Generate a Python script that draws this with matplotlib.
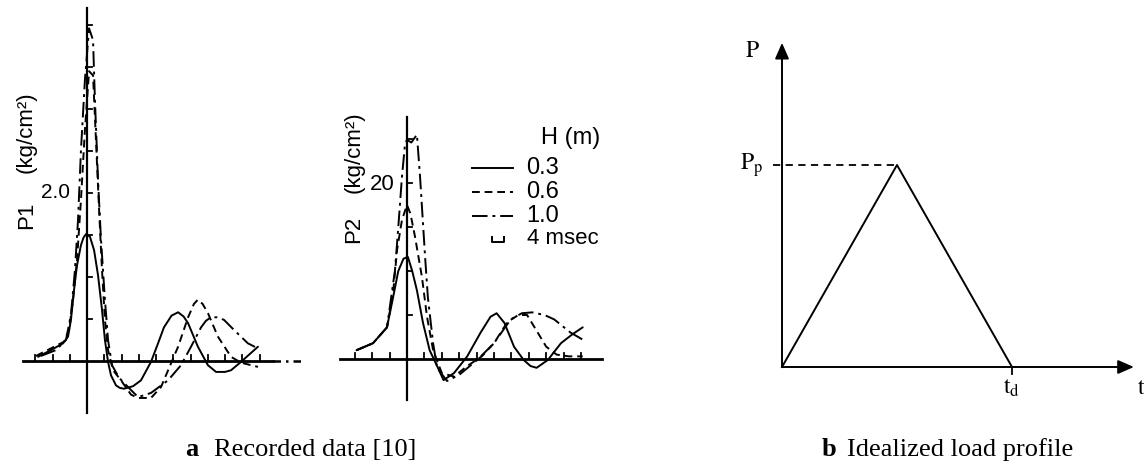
import matplotlib
matplotlib.use("Agg")
import matplotlib.pyplot as plt

plt.rcParams['mathtext.fontset'] = 'stix'

W, H = 1144, 467

# Recorded pressure histories, time in tick units (1 tick per division),
# pressure in kg/cm^2.  Three drop heights H = 0.3, 0.6, 1.0 m.
p1_t_03 = [-2.84, -2.09, -1.39, -1.10, -0.93, -0.75, -0.58, -0.35, -0.2, -0.06, 0.17, 0.41, 0.64, 0.87, 1.04,
           1.22, 1.39, 1.68, 1.9, 2.14, 2.67, 3.13, 3.71, 4.1, 4.46, 4.9, 5.28, 5.6, 5.86, 6.43, 7.01, 7.48,
           8.0, 8.35, 8.93, 9.91]
p1_v_03 = [0.05, 0.13, 0.21, 0.29, 0.49, 0.85, 1.14, 1.38, 1.47, 1.51, 1.48, 1.32, 1.02, 0.61, 0.25,
           -0.01, -0.17, -0.29, -0.32, -0.33, -0.30, -0.23, -0.01, 0.2, 0.40, 0.54, 0.58, 0.53, 0.45, 0.17,
           -0.05, -0.13, -0.13, -0.11, -0.01, 0.17]

p1_t_06 = [-2.96, -2.09, -1.33, -1.04, -0.81, -0.58, -0.35, -0.12, 0.12, 0.35, 0.52, 0.70, 0.87, 1.04,
           1.22, 1.51, 1.97, 2.55, 2.96, 3.71, 4.29, 5.28, 5.86, 6.2, 6.43, 6.7, 7.01, 7.59, 8.35, 8.93, 9.91]
p1_v_06 = [0.06, 0.15, 0.23, 0.37, 0.73, 1.20, 1.92, 2.75, 3.45, 3.40, 2.63, 1.80, 1.08, 0.49,
           0.13, -0.11, -0.23, -0.40, -0.44, -0.44, -0.31, 0.17, 0.52, 0.68, 0.73, 0.68, 0.57, 0.29, 0.05,
           -0.02, -0.07]

p1_t_10 = [-2.67, -1.80, -1.22, -0.93, -0.70, -0.52, -0.35, -0.12, 0.12, 0.35, 0.46, 0.64, 0.81, 1.04,
           1.22, 1.45, 1.86, 2.38, 2.96, 3.71, 4.70, 5.45, 6.03, 6.61, 6.9, 7.19, 7.55, 7.94, 8.52, 9.33, 9.91]
p1_v_10 = [0.06, 0.13, 0.25, 0.55, 1.08, 1.68, 2.51, 3.35, 3.96, 3.82, 3.11, 2.15, 1.45, 0.73,
           0.25, -0.05, -0.20, -0.31, -0.43, -0.38, -0.23, -0.05, 0.17, 0.40, 0.48, 0.52, 0.52, 0.49, 0.37,
           0.21, 0.15]

p2_t_03 = [-2.9, -1.95, -1.15, -0.8, -0.5, -0.2, 0.05, 0.3, 0.57, 0.92, 1.3, 1.73, 2.1, 2.7, 3.46,
           4.23, 4.8, 5.15, 5.6, 6.15, 6.7, 7.1, 7.45, 8.1, 8.85, 9.5, 10.1]
p2_v_03 = [0.1, 0.18, 0.36, 0.7, 1.0, 1.14, 1.16, 1.0, 0.78, 0.41, 0.1, -0.08, -0.24, -0.16, 0.03,
           0.3, 0.48, 0.52, 0.41, 0.14, -0.01, -0.08, -0.1, -0.01, 0.18, 0.28, 0.36]

p2_t_06 = [-2.9, -1.95, -1.15, -0.8, -0.57, -0.29, 0.0, 0.2, 0.46, 0.86, 1.15, 1.5, 2.0, 2.7, 3.46,
           4.3, 5.0, 5.77, 6.4, 6.9, 7.3, 8.0, 8.6, 9.3, 10.1]
p2_v_06 = [0.1, 0.18, 0.36, 0.75, 1.24, 1.58, 1.75, 1.65, 1.39, 0.93, 0.48, 0.1, -0.16, -0.2, -0.08,
           0.03, 0.18, 0.42, 0.5, 0.5, 0.37, 0.14, 0.05, 0.03, 0.03]

p2_t_10 = [-2.9, -1.95, -1.15, -0.69, -0.5, -0.29, -0.11, 0.0, 0.25, 0.57, 0.75, 1.05, 1.2, 1.5, 1.73,
           2.3, 3.0, 4.04, 5.0, 5.96, 6.6, 7.2, 7.9, 8.46, 9.4, 10.1]
p2_v_10 = [0.1, 0.18, 0.36, 1.01, 1.5, 2.07, 2.45, 2.49, 2.46, 2.55, 2.07, 1.13, 0.7, 0.18, -0.1,
           -0.25, -0.18, -0.01, 0.18, 0.45, 0.52, 0.53, 0.5, 0.45, 0.3, 0.22]

heights = ['0.3', '0.6', '1.0']

# idealized triangular load: time / t_d, load / P_p
tri_t = [0.0, 0.5, 1.0]
tri_p = [0.0, 1.0, 0.0]

styles = ['-', (0, (4, 2.5)), (0, (8, 2.5, 1.5, 2.5))]
LW = 1.4


def panel_axes(fig, left, top, right, bottom, x0, y0, sx, sy):
    # pixel box -> axes, data origin sits at pixel (x0, y0), sx/sy px per unit
    ax = fig.add_axes([left / W, 1 - bottom / H, (right - left) / W, (bottom - top) / H])
    ax.set_xlim((left - x0) / sx, (right - x0) / sx)
    ax.set_ylim((y0 - bottom) / sy, (y0 - top) / sy)
    ax.axis('off')
    return ax


def draw_record(ax, series, xext, yext, yticks, sx, sy):
    for (t, v), ls in zip(series, styles):
        ax.plot(t, v, color='k', lw=LW, linestyle=ls, solid_capstyle='round', solid_joinstyle='round')
    ax.plot([xext[0], xext[1]], [0, 0], color='k', lw=2.0)
    ax.plot([0, 0], yext, color='k', lw=1.6)
    for i in range(-3, 11):
        if i != 0:
            ax.plot([i, i], [0, 6 / sy], color='k', lw=1.3)
    for y in yticks:
        ax.plot([0, 5 / sx], [y, y], color='k', lw=1.3)


fig = plt.figure(figsize=(W / 100, H / 100), dpi=100)
fig.patch.set_facecolor('white')

# ---- P1 record
ax1 = panel_axes(fig, 0, 0, 320, 420, 87, 361, 17.25, 84)
draw_record(ax1, [(p1_t_03, p1_v_03), (p1_t_06, p1_v_06), (p1_t_10, p1_v_10)],
            (-3.7, 10.8), (-0.62, 4.2), [0.5 * k for k in range(1, 9)], 17.25, 84)
ax1.plot([10.8, 12.5], [0, 0], color='k', lw=1.8, linestyle=(0, (3, 2, 1, 2)))
ax1.text(-1.8, 2.0, '2.0', fontsize=15, family='Liberation Sans', ha='center', va='center')
ax1.text(-3.5, 1.73, 'P1', fontsize=16, family='Liberation Sans', rotation=90, ha='center', va='center')
ax1.text(-3.5, 2.72, '(kg/cm²)', fontsize=16, family='Liberation Sans', rotation=90, ha='center', va='center')

# ---- P2 record
ax2 = panel_axes(fig, 330, 100, 620, 410, 407, 359, 17.4, 88)
draw_record(ax2, [(p2_t_03, p2_v_03), (p2_t_06, p2_v_06), (p2_t_10, p2_v_10)],
            (-3.85, 11.2), (-0.47, 2.75), [0.5 * k for k in range(1, 6)], 17.4, 88)
ax2.text(-1.45, 1.98, '20', fontsize=16, family='Liberation Sans', ha='center', va='center')
ax2.text(-3.05, 1.47, 'P2', fontsize=16, family='Liberation Sans', rotation=90, ha='center', va='center')
ax2.text(-3.05, 2.35, '(kg/cm²)', fontsize=16, family='Liberation Sans', rotation=90, ha='center', va='center')

# legend drawn by hand in data units of the P2 panel
ax2.text(7.7, 2.51, 'H (m)', fontsize=17, family='Liberation Sans', ha='left', va='center')
for k, (lab, ls) in enumerate(zip(heights, styles)):
    yy = 2.17 - 0.27 * k
    ax2.plot([3.74, 6.09], [yy, yy], color='k', lw=LW, linestyle=ls)
    ax2.text(6.85, yy, lab, fontsize=17, family='Liberation Sans', ha='left', va='center')
ax2.plot([4.9, 4.9, 5.55, 5.55], [1.39, 1.33, 1.33, 1.39], color='k', lw=1.4)
ax2.text(6.9, 1.37, '4 msec', fontsize=16, family='Liberation Sans', ha='left', va='center')

# ---- idealized triangular profile
ax3 = panel_axes(fig, 700, 20, 1144, 420, 782, 367, 230, 202)
ax3.plot(tri_t, tri_p, color='k', lw=1.4)
ax3.plot([-0.04, tri_t[1]], [tri_p[1], tri_p[1]], color='k', lw=1.3, linestyle=(0, (4, 3)))
ax3.plot([1.0, 1.0], [0, -0.035], color='k', lw=1.3)
arrow = dict(arrowstyle='-|>,head_length=0.8,head_width=0.35', mutation_scale=12,
             color='k', lw=1.4, shrinkA=0, shrinkB=0)
ax3.annotate('', xy=(0, 1.605), xytext=(0, 0), arrowprops=arrow)
ax3.annotate('', xy=(1.53, 0), xytext=(0, 0), arrowprops=arrow)
ax3.text(-0.13, 1.57, r'$\mathrm{P}$', fontsize=17, ha='center', va='center')
ax3.text(-0.13, 1.0, r'$\mathrm{P_p}$', fontsize=17, ha='center', va='center')
ax3.text(1.0, -0.1, r'$\mathrm{t_d}$', fontsize=17, ha='center', va='center')
ax3.text(1.545, -0.1, r'$\mathrm{t}$', fontsize=17, ha='left', va='center')

# ---- captions
fig.text(185 / W, 1 - 456 / H, 'a', fontsize=19, family='Liberation Serif', weight='bold', va='baseline')
fig.text(214 / W, 1 - 456 / H, 'Recorded data [10]', fontsize=19, family='Liberation Serif', va='baseline')
fig.text(822 / W, 1 - 456 / H, 'b', fontsize=19, family='Liberation Serif', weight='bold', va='baseline')
fig.text(847 / W, 1 - 456 / H, 'Idealized load profile', fontsize=19, family='Liberation Serif', va='baseline')

fig.savefig('out.png', dpi=100, facecolor='white')
